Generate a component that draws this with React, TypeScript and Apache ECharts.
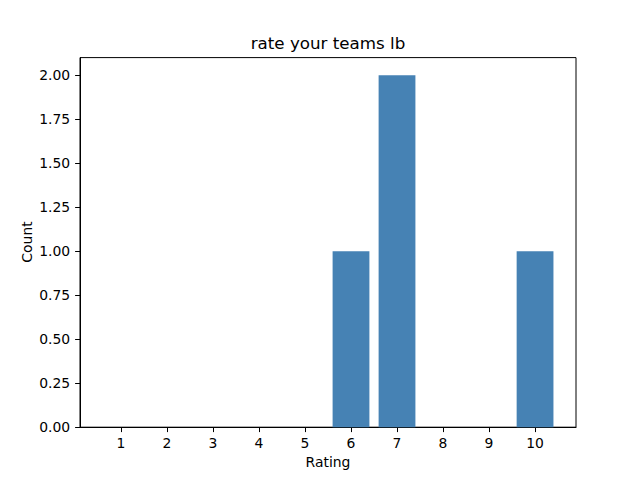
import React, { useEffect, useRef } from "react";
import * as echarts from "echarts";

const ratings = [1, 2, 3, 4, 5, 6, 7, 8, 9, 10];
const counts = [0, 0, 0, 0, 0, 1, 2, 0, 0, 1];
const yTicks = [0, 0.25, 0.5, 0.75, 1.0, 1.25, 1.5, 1.75, 2.0];
const titleText = "rate your teams lb";
const xLabel = "Rating";
const yLabel = "Count";

export default function App() {
  const ref = useRef<HTMLDivElement>(null);
  useEffect(() => {
    if (!ref.current) return;
    const chart = echarts.init(ref.current, undefined, { renderer: "svg" });
    const font = "DejaVu Sans";
    chart.setOption({
      animation: false,
      backgroundColor: "#ffffff",
      textStyle: { fontFamily: font },
      grid: {
        left: 80,
        right: 64,
        top: 57.6,
        bottom: 52.8,
        show: true,
        borderColor: "#000000",
        borderWidth: 1,
        backgroundColor: "transparent",
      },
      graphic: [
        {
          type: "text",
          x: 328,
          y: 43,
          style: {
            text: titleText,
            font: `16.7px ${font}`,
            fill: "#000000",
            textAlign: "center",
            textVerticalAlign: "middle",
          },
        },
        {
          type: "text",
          x: 328,
          y: 462,
          style: {
            text: xLabel,
            font: `13.9px ${font}`,
            fill: "#000000",
            textAlign: "center",
            textVerticalAlign: "middle",
          },
        },
        {
          type: "text",
          x: 27,
          y: 242,
          rotation: Math.PI / 2,
          style: {
            text: yLabel,
            font: `13.9px ${font}`,
            fill: "#000000",
            textAlign: "center",
            textVerticalAlign: "middle",
          },
        },
      ],
      xAxis: {
        type: "value",
        min: 0.11,
        max: 10.89,
        axisLine: { show: true, lineStyle: { color: "#000000", width: 1 } },
        axisTick: {
          show: true,
          length: 4.9,
          lineStyle: { color: "#000000" },
          customValues: ratings,
        },
        axisLabel: {
          color: "#000000",
          fontSize: 13.9,
          fontFamily: font,
          margin: 9,
          customValues: ratings,
          formatter: (v: number) => String(v),
        },
        splitLine: { show: false },
      },
      yAxis: {
        type: "value",
        min: 0,
        max: 2.1,
        axisLine: { show: true, lineStyle: { color: "#000000", width: 1 } },
        axisTick: {
          show: true,
          length: 4.9,
          lineStyle: { color: "#000000" },
          customValues: yTicks,
        },
        axisLabel: {
          color: "#000000",
          fontSize: 13.9,
          fontFamily: font,
          margin: 9.8,
          customValues: yTicks,
          formatter: (v: number) => v.toFixed(2),
        },
        splitLine: { show: false },
      },
      series: [
        {
          type: "bar",
          data: ratings.map((r, i) => [r, counts[i]]),
          barWidth: 36.8,
          itemStyle: { color: "#4682b4" },
        },
      ],
    });
    return () => chart.dispose();
  }, []);
  return (
    <div
      ref={ref}
      style={{ position: "fixed", left: 0, top: 0, width: 640, height: 480 }}
    />
  );
}
